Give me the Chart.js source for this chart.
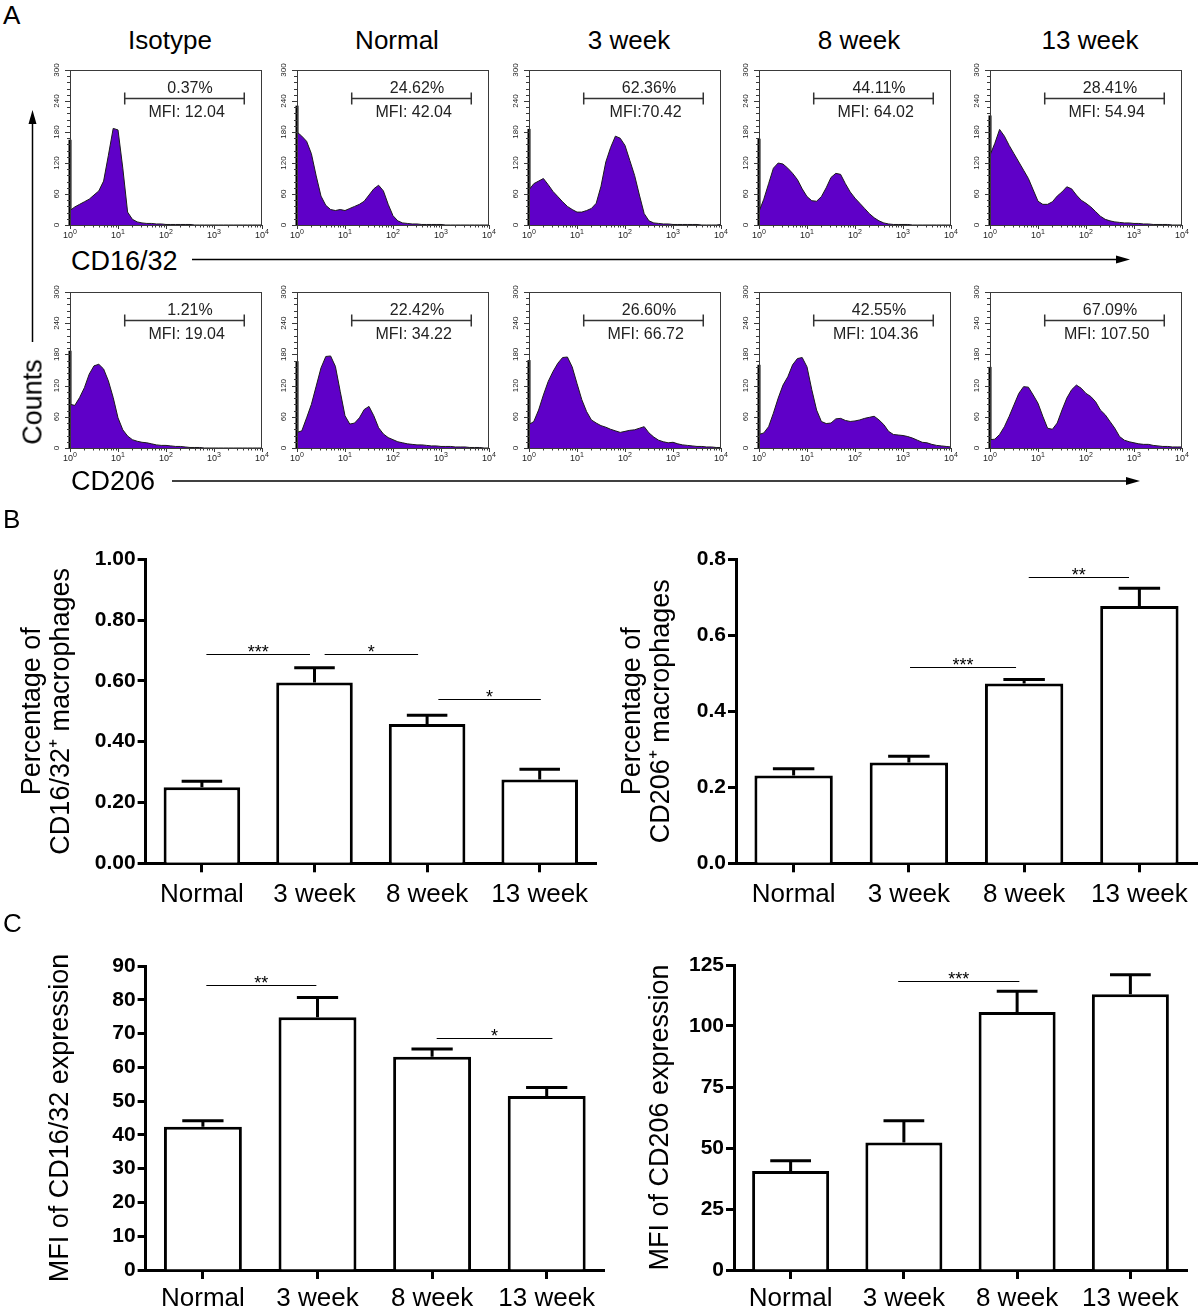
<!DOCTYPE html>
<html>
<head>
<meta charset="utf-8">
<title>Macrophage CD16/32 and CD206 flow cytometry</title>
<script src="https://cdn.jsdelivr.net/npm/chart.js@4.4.1/dist/chart.umd.min.js"></script>
<style>
html,body{margin:0;padding:0;background:#fff;}
#fig{position:relative;width:1200px;height:1313px;overflow:hidden;background:#fff;font-family:'Liberation Sans',Arial,Helvetica,sans-serif;color:#000;}
#fig canvas{position:absolute;}
.lbl{position:absolute;white-space:nowrap;line-height:1;transform:translate(-50%,-50%);}
#arrows{position:absolute;left:0;top:0;}
</style>
</head>
<body>
<div id="fig">
<svg id="arrows" width="1200" height="1313" viewBox="0 0 1200 1313">
  <line x1="192" y1="259.5" x2="1118" y2="259.5" stroke="#000" stroke-width="1.5"/>
  <polygon points="1130,259.5 1116,255.5 1116,263.5" fill="#000"/>
  <line x1="172" y1="481" x2="1128" y2="481" stroke="#000" stroke-width="1.5"/>
  <polygon points="1140,481 1126,477 1126,485" fill="#000"/>
  <line x1="32.5" y1="342" x2="32.5" y2="122" stroke="#000" stroke-width="1.5"/>
  <polygon points="32.5,110 28.5,124 36.5,124" fill="#000"/>
</svg>
</div>
<script>
// ================= DATA =================
const histGroups = ['Isotype', 'Normal', '3 week', '8 week', '13 week'];
// log-spaced fluorescence channels (10 per decade, 10^0 .. 10^4)
const logX = [1, 1.259, 1.585, 1.995, 2.512, 3.162, 3.981, 5.012, 6.31, 7.943,
  10, 12.59, 15.85, 19.95, 25.12, 31.62, 39.81, 50.12, 63.1, 79.43,
  100, 125.9, 158.5, 199.5, 251.2, 316.2, 398.1, 501.2, 631, 794.3,
  1000, 1259, 1585, 1995, 2512, 3162, 3981, 5012, 6310, 7943, 10000];

// CD16/32 histograms (counts)
const histIsotypeCD1632 = [28, 35, 40, 45, 50, 58, 66, 85, 135, 187, 184, 110, 25, 11, 6, 4, 3, 3, 2, 2, 1, 1, 1, 1, 1, 1, 0, 0, 0, 0, 0, 0, 0, 0, 0, 0, 0, 0, 0, 0, 0];
const histNormalCD1632 = [180, 172, 162, 138, 95, 56, 38, 30, 28, 30, 28, 32, 36, 40, 46, 58, 70, 77, 66, 40, 18, 8, 4, 3, 2, 2, 1, 1, 1, 1, 1, 0, 0, 0, 0, 0, 0, 0, 0, 0, 0];
const hist3wkCD1632 = [68, 80, 85, 90, 78, 65, 55, 45, 36, 30, 25, 25, 28, 32, 42, 75, 122, 150, 172, 168, 154, 125, 96, 58, 22, 8, 4, 3, 2, 2, 1, 1, 1, 1, 1, 1, 0, 0, 0, 0, 1];
const hist8wkCD1632 = [26, 50, 80, 110, 120, 118, 110, 100, 88, 70, 55, 47, 46, 55, 72, 92, 100, 98, 80, 64, 52, 42, 32, 22, 14, 8, 4, 2, 1, 1, 1, 1, 0, 0, 0, 0, 0, 0, 0, 0, 0];
const hist13wkCD1632 = [135, 158, 185, 172, 154, 138, 122, 106, 90, 68, 46, 40, 40, 45, 56, 64, 74, 70, 58, 48, 42, 35, 26, 17, 11, 8, 6, 5, 4, 4, 3, 3, 2, 2, 1, 1, 1, 1, 0, 0, 0];
// CD206 histograms (counts)
const histIsotypeCD206 = [84, 82, 97, 116, 142, 158, 161, 152, 129, 97, 58, 35, 23, 16, 13, 11, 10, 8, 6, 5, 5, 4, 3, 3, 2, 1, 1, 1, 0, 0, 0, 0, 0, 0, 0, 0, 0, 0, 0, 0, 0];
const histNormalCD206 = [30, 33, 58, 84, 119, 154, 176, 177, 157, 109, 62, 46, 48, 58, 74, 80, 62, 39, 27, 20, 16, 12, 10, 8, 7, 6, 6, 5, 4, 4, 3, 3, 3, 2, 2, 2, 1, 1, 1, 0, 0];
const hist3wkCD206 = [45, 51, 73, 102, 128, 147, 163, 174, 175, 156, 124, 93, 70, 54, 48, 43, 40, 36, 33, 30, 32, 34, 35, 38, 41, 29, 21, 15, 12, 10, 11, 8, 6, 5, 4, 3, 3, 2, 2, 1, 1];
const hist8wkCD206 = [26, 29, 41, 67, 96, 121, 137, 160, 172, 174, 156, 112, 73, 51, 47, 48, 56, 57, 53, 51, 52, 54, 57, 59, 61, 54, 45, 32, 26, 25, 24, 22, 19, 15, 11, 10, 7, 5, 4, 3, 2];
const hist13wkCD206 = [16, 17, 26, 41, 61, 83, 105, 118, 117, 102, 86, 61, 38, 36, 48, 73, 96, 112, 121, 115, 105, 99, 89, 73, 64, 51, 38, 22, 15, 12, 10, 8, 7, 7, 5, 4, 3, 3, 2, 2, 2];
// first-channel pile-up (counts at 10^0)
const edgeCD1632 = [165, 231, 186, 167, 212];
const edgeCD206 = [187, 167, 169, 160, 156];
// gate statistics
const pctCD1632 = ['0.37%', '24.62%', '62.36%', '44.11%', '28.41%'];
const mfiCD1632 = ['MFI: 12.04', 'MFI: 42.04', 'MFI:70.42', 'MFI: 64.02', 'MFI: 54.94'];
const pctCD206 = ['1.21%', '22.42%', '26.60%', '42.55%', '67.09%'];
const mfiCD206 = ['MFI: 19.04', 'MFI: 34.22', 'MFI: 66.72', 'MFI: 104.36', 'MFI: 107.50'];
const gateRange = [13.8, 4270];
const gateLevel = 246;
const countTicks = [0, 60, 120, 180, 240, 300];
const decadeTicks = [1, 10, 100, 1000, 10000];
const decadeExp = ['0', '1', '2', '3', '4'];

// Bar charts
const barGroups = ['Normal', '3 week', '8 week', '13 week'];
const pctCD1632Mean = [0.250, 0.595, 0.458, 0.276];
const pctCD1632Sem = [0.020, 0.048, 0.029, 0.033];
const pctCD206Mean = [0.231, 0.265, 0.473, 0.677];
const pctCD206Sem = [0.018, 0.017, 0.011, 0.047];
const mfiCD1632Mean = [42.4, 74.8, 63.1, 51.5];
const mfiCD1632Sem = [1.8, 5.9, 2.3, 2.5];
const mfiCD206Mean = [40.6, 52.3, 105.7, 113.0];
const mfiCD206Sem = [4.2, 8.9, 8.5, 8.0];
// significance brackets: [from category, to category, level, label]
const sigPctCD1632 = [[0.04, 0.96, 0.69, '***'], [1.09, 1.92, 0.69, '*'], [2.10, 3.01, 0.54, '*']];
const sigPctCD206 = [[1.01, 1.93, 0.516, '***'], [2.04, 2.91, 0.754, '**']];
const sigMfiCD1632 = [[0.03, 0.99, 84.4, '**'], [2.04, 3.05, 68.6, '*']];
const sigMfiCD206 = [[0.95, 2.02, 118.4, '***']];

// ================= RENDERING =================
const FONT = "'Liberation Sans', Arial, Helvetica, sans-serif";
Chart.defaults.font.family = FONT;
Chart.defaults.color = '#000';
const fig = document.getElementById('fig');

function addLabel(text, cx, cy, size, extra) {
  const d = document.createElement('div');
  d.className = 'lbl';
  d.textContent = text;
  d.style.left = cx + 'px';
  d.style.top = cy + 'px';
  d.style.fontSize = size + 'px';
  if (extra) Object.assign(d.style, extra);
  fig.appendChild(d);
}
function makeCanvas(left, top, w, h) {
  const c = document.createElement('canvas');
  c.width = w; c.height = h;
  c.style.left = left + 'px'; c.style.top = top + 'px';
  c.style.width = w + 'px'; c.style.height = h + 'px';
  fig.appendChild(c);
  return c;
}

const histDeco = {
  id: 'histDeco',
  afterDatasetsDraw(chart) {
    const o = chart.options.plugins.histDeco;
    const { ctx, chartArea: a } = chart;
    const xs = chart.scales.x, ys = chart.scales.y;
    ctx.save();
    // frame
    ctx.strokeStyle = '#3a3a3a';
    ctx.lineWidth = 1;
    ctx.strokeRect(Math.round(a.left) + 0.5, Math.round(a.top) + 0.5, Math.round(a.right - a.left) - 1, Math.round(a.bottom - a.top));
    // ticks
    ctx.beginPath();
    for (let v = 0; v <= 300; v += 12) {
      const py = Math.round(ys.getPixelForValue(v)) + 0.5;
      const len = countTicks.includes(v) ? 5 : 3;
      ctx.moveTo(a.left - len, py); ctx.lineTo(a.left, py);
    }
    decadeTicks.forEach((d, i) => {
      const px = Math.round(xs.getPixelForValue(d)) + 0.5;
      ctx.moveTo(px, a.bottom); ctx.lineTo(px, a.bottom + 4);
      if (i < decadeTicks.length - 1) {
        for (let m = 2; m < 10; m++) {
          const qx = Math.round(xs.getPixelForValue(d * m)) + 0.5;
          ctx.moveTo(qx, a.bottom); ctx.lineTo(qx, a.bottom + 2.5);
        }
      }
    });
    ctx.stroke();
    // tick labels
    ctx.fillStyle = '#222';
    countTicks.forEach(v => {
      ctx.save();
      ctx.translate(a.left - 13, ys.getPixelForValue(v));
      ctx.rotate(-Math.PI / 2);
      ctx.font = '8px ' + FONT;
      ctx.textAlign = 'center';
      ctx.textBaseline = 'middle';
      ctx.fillText(String(v), 0, 0);
      ctx.restore();
    });
    decadeTicks.forEach((d, i) => {
      const px = xs.getPixelForValue(d);
      ctx.font = '9px ' + FONT;
      const w1 = ctx.measureText('10').width;
      ctx.font = '7px ' + FONT;
      const w2 = ctx.measureText(decadeExp[i]).width;
      const x0 = px - (w1 + w2) / 2;
      ctx.textAlign = 'left';
      ctx.textBaseline = 'alphabetic';
      ctx.font = '9px ' + FONT;
      ctx.fillText('10', x0, a.bottom + 13);
      ctx.font = '7px ' + FONT;
      ctx.fillText(decadeExp[i], x0 + w1, a.bottom + 9);
    });
    // gate marker
    const gy = Math.round(ys.getPixelForValue(gateLevel)) + 0.5;
    const gx0 = xs.getPixelForValue(gateRange[0]);
    const gx1 = xs.getPixelForValue(gateRange[1]);
    ctx.strokeStyle = '#333';
    ctx.lineWidth = 1.5;
    ctx.beginPath();
    ctx.moveTo(gx0, gy); ctx.lineTo(gx1, gy);
    ctx.moveTo(gx0, gy - 6); ctx.lineTo(gx0, gy + 6);
    ctx.moveTo(gx1, gy - 6); ctx.lineTo(gx1, gy + 6);
    ctx.stroke();
    ctx.fillStyle = '#222';
    ctx.font = '16px ' + FONT;
    ctx.textAlign = 'center';
    ctx.textBaseline = 'middle';
    ctx.fillText(o.pct, xs.getPixelForValue(Math.pow(10, 2.5)), gy - 10);
    ctx.fillText(o.mfi, xs.getPixelForValue(Math.pow(10, 2.43)), gy + 14);
    ctx.restore();
  }
};

function histChart(boxLeft, boxTop, boxH, counts, edge, pct, mfi) {
  const padL = 26, padT = 10, padR = 8, padB = 20, boxW = 192;
  const cv = makeCanvas(boxLeft - padL, boxTop - padT, boxW + padL + padR, boxH + padT + padB);
  return new Chart(cv, {
    type: 'line',
    data: {
      datasets: [
        {
          data: logX.map((x, i) => ({ x: x, y: counts[i] })),
          fill: 'origin',
          backgroundColor: '#5f00c8',
          borderColor: '#1a1a1a',
          borderWidth: 1,
          pointRadius: 0,
          tension: 0
        },
        {
          data: [{ x: 1, y: 0 }, { x: 1, y: edge }],
          borderColor: '#000',
          borderWidth: 3,
          pointRadius: 0,
          fill: false,
          clip: 4
        }
      ]
    },
    options: {
      responsive: false, animation: false, devicePixelRatio: 1, events: [],
      layout: { padding: { left: padL, top: padT, right: padR, bottom: padB } },
      plugins: { legend: { display: false }, tooltip: { enabled: false }, histDeco: { pct: pct, mfi: mfi } },
      scales: {
        x: { type: 'logarithmic', min: 1, max: 10000, display: false },
        y: { min: 0, max: 300, display: false }
      }
    },
    plugins: [histDeco]
  });
}

const boxLefts = [70, 297, 529, 759, 990];
const topSets = [histIsotypeCD1632, histNormalCD1632, hist3wkCD1632, hist8wkCD1632, hist13wkCD1632];
const botSets = [histIsotypeCD206, histNormalCD206, hist3wkCD206, hist8wkCD206, hist13wkCD206];
boxLefts.forEach((L, i) => {
  histChart(L, 69.5, 155.5, topSets[i], edgeCD1632[i], pctCD1632[i], mfiCD1632[i]);
  histChart(L, 292, 156, botSets[i], edgeCD206[i], pctCD206[i], mfiCD206[i]);
  addLabel(histGroups[i], L + 96 + 4, 39.5, 26);
});

// ---- bar charts ----
const barDeco = {
  id: 'barDeco',
  afterDatasetsDraw(chart) {
    const o = chart.options.plugins.barDeco;
    const { ctx } = chart;
    const xs = chart.scales.x, ys = chart.scales.y;
    const vals = chart.data.datasets[0].data;
    const step = xs.getPixelForValue(1) - xs.getPixelForValue(0);
    ctx.save();
    ctx.strokeStyle = '#000';
    ctx.lineWidth = 3;
    vals.forEach((v, i) => {
      const px = xs.getPixelForValue(i);
      const y0 = ys.getPixelForValue(v);
      const y1 = ys.getPixelForValue(v + o.err[i]);
      ctx.beginPath();
      ctx.moveTo(px, y0); ctx.lineTo(px, y1);
      ctx.moveTo(px - step * 0.18, y1); ctx.lineTo(px + step * 0.18, y1);
      ctx.stroke();
    });
    ctx.lineWidth = 1;
    ctx.fillStyle = '#000';
    ctx.font = '18px ' + FONT;
    ctx.textAlign = 'center';
    ctx.textBaseline = 'alphabetic';
    o.sig.forEach(s => {
      const x0 = xs.getPixelForValue(s[0]);
      const x1 = xs.getPixelForValue(s[1]);
      const yy = Math.round(ys.getPixelForValue(s[2])) + 0.5;
      ctx.beginPath();
      ctx.moveTo(x0, yy); ctx.lineTo(x1, yy);
      ctx.stroke();
      ctx.fillText(s[3], (x0 + x1) / 2, yy + 3);
    });
    ctx.restore();
  }
};

function barChart(c) {
  const cv = makeCanvas(c.left, c.top, c.w, c.h);
  return new Chart(cv, {
    type: 'bar',
    data: {
      labels: barGroups,
      datasets: [{
        data: c.values,
        backgroundColor: '#fff',
        borderColor: '#000',
        borderWidth: 3,
        borderSkipped: 'start',
        categoryPercentage: 1,
        barPercentage: 0.68
      }]
    },
    options: {
      responsive: false, animation: false, devicePixelRatio: 1, events: [],
      layout: { padding: c.pad },
      plugins: { legend: { display: false }, tooltip: { enabled: false }, barDeco: { err: c.err, sig: c.sig } },
      scales: {
        x: {
          offset: true,
          grid: { display: true, offset: false, drawOnChartArea: false, drawTicks: true, tickLength: 9, tickWidth: 3, tickColor: '#000' },
          border: { display: true, width: 3, color: '#000' },
          ticks: { font: { size: 26 }, color: '#000', padding: c.xPad, maxRotation: 0, autoSkip: false },
          afterFit: s => { s.height = c.xH; }
        },
        y: {
          min: 0, max: c.max,
          grid: { display: true, drawOnChartArea: false, drawTicks: true, tickLength: 8, tickWidth: 3, tickColor: '#000' },
          border: { display: true, width: 3, color: '#000' },
          ticks: { stepSize: c.step, callback: c.fmt, font: { size: 21, weight: 'bold' }, color: '#000', padding: 2 },
          title: { display: true, text: c.title, color: '#000', font: { size: 27, lineHeight: 1.05 }, padding: { top: c.tPad, bottom: 0 } },
          afterFit: s => { s.width = c.yW; }
        }
      }
    },
    plugins: [barDeco]
  });
}

barChart({ left: 0, top: 530, w: 610, h: 380, pad: { left: 0, top: 29.3, right: 14, bottom: 0 }, yW: 145.6, xH: 46.7, xPad: 7, tPad: 18.8,
  values: pctCD1632Mean, err: pctCD1632Sem, sig: sigPctCD1632, max: 1, step: 0.2, fmt: v => v.toFixed(2),
  title: ['Percentage of', 'CD16/32\u207A macrophages'] });
barChart({ left: 600, top: 530, w: 600, h: 380, pad: { left: 0, top: 29.3, right: 3, bottom: 0 }, yW: 136, xH: 46.7, xPad: 7, tPad: 18.8,
  values: pctCD206Mean, err: pctCD206Sem, sig: sigPctCD206, max: 0.8, step: 0.2, fmt: v => v.toFixed(1),
  title: ['Percentage of', 'CD206\u207A macrophages'] });
barChart({ left: 0, top: 930, w: 610, h: 383, pad: { left: 0, top: 36, right: 6, bottom: 0 }, yW: 145.6, xH: 43, xPad: 4, tPad: 46.8,
  values: mfiCD1632Mean, err: mfiCD1632Sem, sig: sigMfiCD1632, max: 90, step: 10, fmt: v => String(Math.round(v)),
  title: 'MFI of CD16/32 expression' });
barChart({ left: 600, top: 930, w: 600, h: 383, pad: { left: 0, top: 35, right: 13, bottom: 0 }, yW: 134, xH: 43, xPad: 4, tPad: 46.8,
  values: mfiCD206Mean, err: mfiCD206Sem, sig: sigMfiCD206, max: 125, step: 25, fmt: v => String(Math.round(v)),
  title: 'MFI of CD206 expression' });

// ---- figure labels ----
addLabel('A', 3, 15, 26, { transform: 'translate(0,-50%)' });
addLabel('B', 3, 519, 26, { transform: 'translate(0,-50%)' });
addLabel('C', 3, 922.7, 26, { transform: 'translate(0,-50%)' });
addLabel('CD16/32', 71, 260.5, 27, { transform: 'translate(0,-50%)' });
addLabel('CD206', 71, 480.5, 27, { transform: 'translate(0,-50%)' });
addLabel('Counts', 32.5, 402, 27, { transform: 'translate(-50%,-50%) rotate(-90deg)' });
</script>
</body>
</html>
